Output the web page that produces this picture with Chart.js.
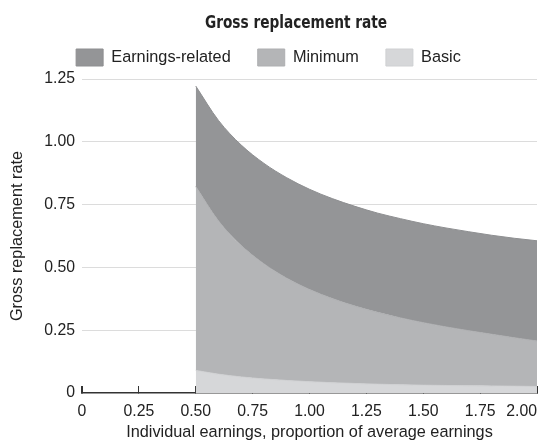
<!DOCTYPE html>
<html>
<head>
<meta charset="utf-8">
<script src="https://cdn.jsdelivr.net/npm/chart.js@4"></script>
<style>
html,body{margin:0;padding:0;background:#fff;}
#wrap{width:539px;height:442px;}
</style>
</head>
<body>
<div id="wrap"><canvas id="c" width="539" height="442"></canvas></div>
<script>
// Individual earnings (proportion of average earnings)
const xValues = [0.5, 0.6, 0.7, 0.8, 0.9, 1.0, 1.1, 1.2, 1.3, 1.4, 1.5, 1.6, 1.7, 1.8, 1.9, 2.0];
// Stacked components of the gross replacement rate
const basic = [0.090, 0.075, 0.064, 0.056, 0.050, 0.045, 0.041, 0.038, 0.035, 0.033, 0.031, 0.030, 0.029, 0.028, 0.027, 0.026];
const minimum = [0.732, 0.610, 0.523, 0.458, 0.407, 0.367, 0.335, 0.308, 0.286, 0.266, 0.249, 0.233, 0.219, 0.206, 0.193, 0.181];
const earningsRelated = [0.400, 0.400, 0.400, 0.400, 0.400, 0.399, 0.398, 0.397, 0.395, 0.395, 0.394, 0.394, 0.394, 0.394, 0.396, 0.399];
const seriesNames = ['Basic', 'Minimum', 'Earnings-related'];
const xTickLabels = ['0', '0.25', '0.50', '0.75', '1.00', '1.25', '1.50', '1.75', '2.00'];
const yTickLabels = ['0', '0.25', '0.50', '0.75', '1.00', '1.25'];

const FONT = "'Liberation Sans', Arial, Helvetica, sans-serif";
const TXT = '#222';
const pts = arr => xValues.map((x, i) => ({ x: x, y: arr[i] }));

const fixes = {
  id: 'fixes',
  afterInit(chart) {
    const lg = chart.legend;
    const f = lg.fit;
    lg.fit = function () { f.call(this); this.height += 3; };
    const tb = chart.titleBlock;
    const d = tb.draw;
    tb.draw = function () {
      const ctx = this.ctx;
      const cx = (this.left + this.right) / 2;
      ctx.save();
      ctx.translate(296, 0);
      ctx.scale(0.87, 1);
      ctx.translate(-cx, 0);
      d.call(this);
      ctx.restore();
    };
  }
};

new Chart(document.getElementById('c'), {
  type: 'line',
  data: {
    datasets: [
      { label: seriesNames[0], data: pts(basic), backgroundColor: '#d6d7d9', borderColor: '#cfd0d2', borderWidth: 1, fill: 'origin' },
      { label: seriesNames[1], data: pts(minimum), backgroundColor: '#b4b5b7', borderColor: '#aeafb1', borderWidth: 1, fill: '-1' },
      { label: seriesNames[2], data: pts(earningsRelated), backgroundColor: '#949597', borderColor: '#8e8f91', borderWidth: 1, fill: '-1' }
    ]
  },
  options: {
    responsive: false,
    animation: false,
    devicePixelRatio: 1,
    layout: { padding: { top: 0, right: 2, bottom: 0, left: 0 } },
    elements: { point: { radius: 0 }, line: { cubicInterpolationMode: 'monotone' } },
    plugins: {
      tooltip: { enabled: false },
      title: {
        display: true,
        text: 'Gross replacement rate',
        color: TXT,
        font: { family: "'DejaVu Sans Condensed', 'Liberation Sans Narrow', sans-serif", size: 17.5, weight: 'bold' },
        padding: { top: 12.5, bottom: -11.5 }
      },
      legend: {
        display: true,
        reverse: true,
        labels: {
          boxWidth: 27,
          boxHeight: 17,
          padding: 27,
          color: TXT,
          font: { family: FONT, size: 16.3 }
        }
      }
    },
    scales: {
      x: {
        type: 'linear',
        min: 0,
        max: 2,
        afterFit(scale) { scale.height = 49; scale.paddingRight = 0; scale.paddingLeft = 0; },
        afterBuildTicks(scale) { scale.ticks.unshift({ value: -0.000001 }); },
        ticks: {
          stepSize: 0.25,
          align: 'inner',
          padding: 16.5,
          color: TXT,
          font: { family: FONT, size: 15.8 },
          callback: (v) => {
            if (v < 0) return '';
            const i = Math.round(v / 0.25);
            return xTickLabels[i];
          }
        },
        grid: { display: true, drawOnChartArea: false, drawTicks: true, tickLength: -7, color: '#333', tickColor: '#333', tickWidth: 1 },
        border: { display: true, color: '#333', width: 1.5 },
        title: {
          display: true,
          text: 'Individual earnings, proportion of average earnings',
          color: TXT,
          font: { family: FONT, size: 16.3 },
          padding: { top: 0, bottom: 0 }
        }
      },
      y: {
        stacked: true,
        min: 0,
        max: 1.25,
        afterFit(scale) { scale.width = 82; },
        ticks: {
          stepSize: 0.25,
          padding: 7,
          color: TXT,
          font: { family: FONT, size: 15.8 },
          callback: (v) => yTickLabels[Math.round(v / 0.25)]
        },
        grid: {
          drawTicks: false,
          color: (ctx) => (ctx.tick && ctx.tick.value === 0) ? 'rgba(0,0,0,0)' : '#dcdcdc',
          lineWidth: 1
        },
        border: { display: false },
        title: {
          display: true,
          text: 'Gross replacement rate',
          color: TXT,
          font: { family: FONT, size: 16.3 },
          padding: { top: 8.2, bottom: 0 }
        }
      }
    }
  },
  plugins: [fixes]
});
</script>
</body>
</html>
